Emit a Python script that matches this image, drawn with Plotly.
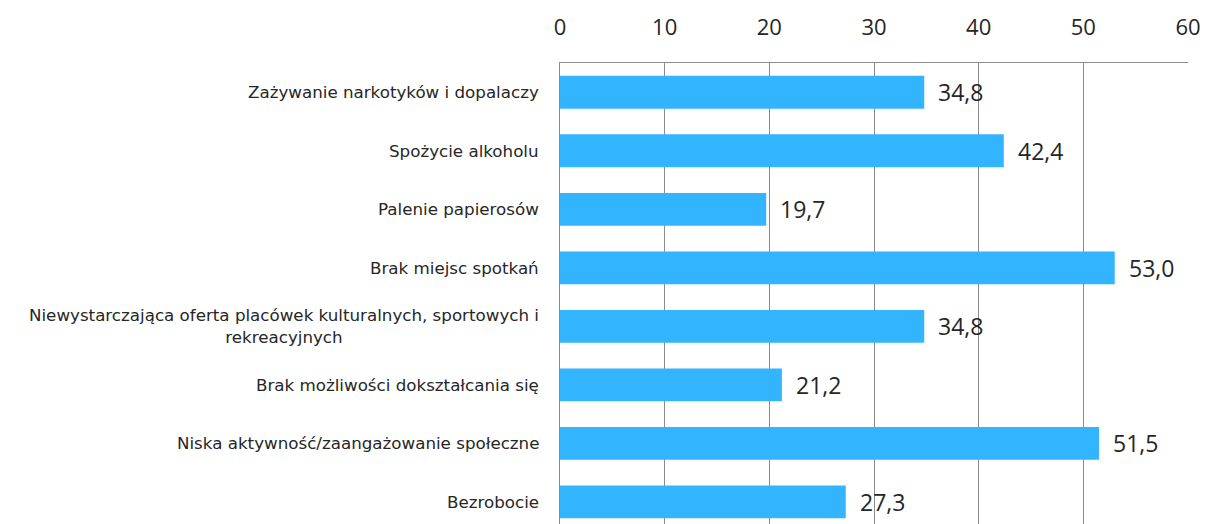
import plotly.graph_objects as go

categories = [
    "Zażywanie narkotyków i dopalaczy",
    "Spożycie alkoholu",
    "Palenie papierosów",
    "Brak miejsc spotkań",
    "Niewystarczająca oferta placówek kulturalnych, sportowych i<br>rekreacyjnych",
    "Brak możliwości dokształcania się",
    "Niska aktywność/zaangażowanie społeczne",
    "Bezrobocie",
]
values = [34.8, 42.4, 19.7, 53.0, 34.8, 21.2, 51.5, 27.3]
x_ticks = [0, 10, 20, 30, 40, 50, 60]

FONT = "Open Sans"
LABEL_FONT = "DejaVu Sans"
TEXT_COLOR = "#262626"
GRID = "#8c8c8c"
BAR = "#33b4fe"

idx = list(range(len(categories)))

fig = go.Figure(
    go.Bar(
        x=values,
        y=idx,
        orientation="h",
        marker=dict(color=BAR, line=dict(width=0)),
        width=0.56,
        hoverinfo="skip",
    )
)

# value labels to the right of each bar
for i, v in zip(idx, values):
    fig.add_annotation(
        x=v, y=i, xref="x", yref="y",
        text=f"{v:.1f}".replace(".", ","),
        showarrow=False, xanchor="left", xshift=12,
        font=dict(family=FONT, size=23, color=TEXT_COLOR),
    )

# category labels, right-aligned against the axis, wrapped lines centred
for i, c in zip(idx, categories):
    fig.add_annotation(
        x=0, y=i, xref="paper", yref="y",
        text=c, showarrow=False, xanchor="right", xshift=-19,
        align="center",
        font=dict(family=LABEL_FONT, size=16.7, color=TEXT_COLOR),
    )

fig.update_layout(
    width=1206, height=524,
    margin=dict(l=560, r=18, t=63, b=0),
    paper_bgcolor="white", plot_bgcolor="white",
    showlegend=False,
    bargap=0.44,
    xaxis=dict(
        side="top", range=[0, 60], tickvals=x_ticks,
        showgrid=True, gridcolor=GRID, gridwidth=1,
        showline=True, linecolor=GRID, linewidth=1,
        zeroline=False, ticks="", ticklabelstandoff=18,
        tickfont=dict(family=FONT, size=22, color=TEXT_COLOR),
        fixedrange=True,
    ),
    yaxis=dict(
        range=[7.38, -0.5], showticklabels=False,
        showgrid=False, zeroline=False,
        showline=True, linecolor=GRID, linewidth=1,
        fixedrange=True,
    ),
)

fig.write_html("out.html")
